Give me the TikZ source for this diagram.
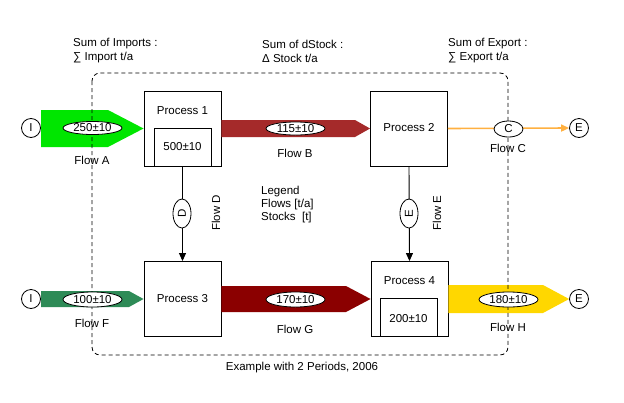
\documentclass[tikz,border=0pt]{standalone}
\usepackage{fontspec}
\setmainfont{Liberation Sans}
\usetikzlibrary{shapes.geometric,arrows.meta}
\definecolor{flowA}{HTML}{00E600}
\definecolor{flowB}{HTML}{A52A2A}
\definecolor{flowC}{HTML}{FFB040}
\definecolor{flowF}{HTML}{2E8B57}
\definecolor{flowG}{HTML}{8B0000}
\definecolor{flowH}{HTML}{FFD700}
\tikzset{
  txt/.style={font=\fontsize{11.5}{13}\selectfont, inner sep=0pt},
  procbox/.style={draw, line width=0.9pt, minimum width=77pt, minimum height=75pt, inner sep=0pt},
  stockbox/.style={draw, line width=0.9pt, minimum width=57pt, minimum height=38pt, inner sep=0pt},
  valell/.style={ellipse, draw, fill=white, line width=0.8pt, minimum width=59pt, minimum height=13pt, inner sep=0pt, font=\fontsize{11.5}{13}\selectfont},
  term/.style={circle, draw, line width=0.8pt, minimum size=19pt, inner sep=0pt, font=\fontsize{11.5}{13}\selectfont},
  flowline/.style={line width=0.9pt, -{Triangle[length=8pt,width=7pt]}},
}
\begin{document}
\begin{tikzpicture}[x=1pt,y=-1pt]
\useasboundingbox (0,0) rectangle (624,402);
% process boxes
\node[procbox] (P1) at (182.5,128.5) {};
\node[procbox] (P2) at (409,128.5) {};
\node[procbox] (P3) at (182.5,299) {};
\node[procbox] (P4) at (409.5,299) {};
\node[stockbox] (S1) at (182.5,147) {};
\node[stockbox] (S4) at (408.5,317) {};
% terminals
\node[term] (I1) at (31,128) {I};
\node[term] (I3) at (31,299) {I};
\node[term] (E2) at (579,128) {E};
\node[term] (E4) at (579,299) {E};
% flow arrows (thick)
\fill[flowA] (41,110) -- (108,110) -- (P1.west) -- (108,147) -- (41,147) -- cycle;
\fill[flowB] (P1.east |- 0,120) -- (355,120) -- (P2.west) -- (355,137) -- (P1.east |- 0,137) -- cycle;
\fill[flowF] (41,291) -- (129,291) -- (P3.west) -- (129,307) -- (41,307) -- cycle;
\fill[flowG] (P3.east |- 0,286) -- (346,286) -- (P4.west) -- (346,312) -- (P3.east |- 0,312) -- cycle;
\fill[flowH] (P4.east |- 0,285) -- (543,285) -- (E4.west) -- (543,313) -- (P4.east |- 0,313) -- cycle;
% thin flows
\draw[flowline, draw=flowC, fill=flowC, line width=1.6pt] (P2.east) -- (E2.west);
\draw[flowline] (P1.south) -- (P3.north);
\draw[flowline] (P2.south) -- (P4.north);
% system boundary
\draw[dash pattern=on 4pt off 3pt, line width=0.8pt, rounded corners=8pt] (92,73) rectangle (508,355);
% value ellipses
\node[valell] (vA) at (92.5,128) {250±10};
\node[valell] (vB) at (295.5,128.5) {115±10};
\node[valell, minimum width=29pt, minimum height=16pt] (vC) at (508.5,129) {C};
\node[valell, minimum width=29pt, minimum height=18pt, rotate=90] (vD) at (182,213.5) {D};
\node[valell, minimum width=29pt, minimum height=18pt, rotate=90] (vE) at (409,213.5) {E};
\node[valell, minimum height=15pt] (vF) at (92.5,299.5) {100±10};
\node[valell, minimum height=15pt] (vG) at (295.5,299.5) {170±10};
\node[valell, minimum height=15pt] (vH) at (508.5,299.5) {180±10};
% process texts
\node[txt] (t1) at (182.5,111) {Process 1};
\node[txt] (s1) at (182.5,147) {500±10};
\node[txt] (t2) at (409,128) {Process 2};
\node[txt] (t3) at (182.5,299) {Process 3};
\node[txt] (t4) at (409.5,281) {Process 4};
\node[txt] (s4) at (408.5,319) {200±10};
% flow names
\node[txt] (fA) at (92,160) {Flow A};
\node[txt] (fB) at (295,153) {Flow B};
\node[txt] (fC) at (508,148) {Flow C};
\node[txt, rotate=90] (fD) at (216,213) {Flow D};
\node[txt, rotate=90] (fE) at (437,213) {Flow E};
\node[txt] (fF) at (92,323) {Flow F};
\node[txt] (fG) at (295,329) {Flow G};
\node[txt] (fH) at (508,327) {Flow H};
% top labels
\node[txt, anchor=west] (h1a) at (73,44) {Sum of Imports :};
\node[txt, anchor=west] (h1b) at (73,58) {∑ Import t/a};
\node[txt, anchor=west] (h2a) at (262,44) {Sum of dStock :};
\node[txt, anchor=west] (h2b) at (262,58) {Δ Stock t/a};
\node[txt, anchor=west] (h3a) at (448,44) {Sum of Export :};
\node[txt, anchor=west] (h3b) at (448,58) {∑ Export t/a};
% legend
\node[txt, anchor=west] (L1) at (261,192) {Legend};
\node[txt, anchor=west] (L2) at (261,205) {Flows [t/a]};
\node[txt, anchor=west] (L3) at (261,218) {Stocks\ \ [t]};
% footer
\node[txt] (foot) at (302,368) {Example with 2 Periods, 2006};
\end{tikzpicture}
\end{document}
